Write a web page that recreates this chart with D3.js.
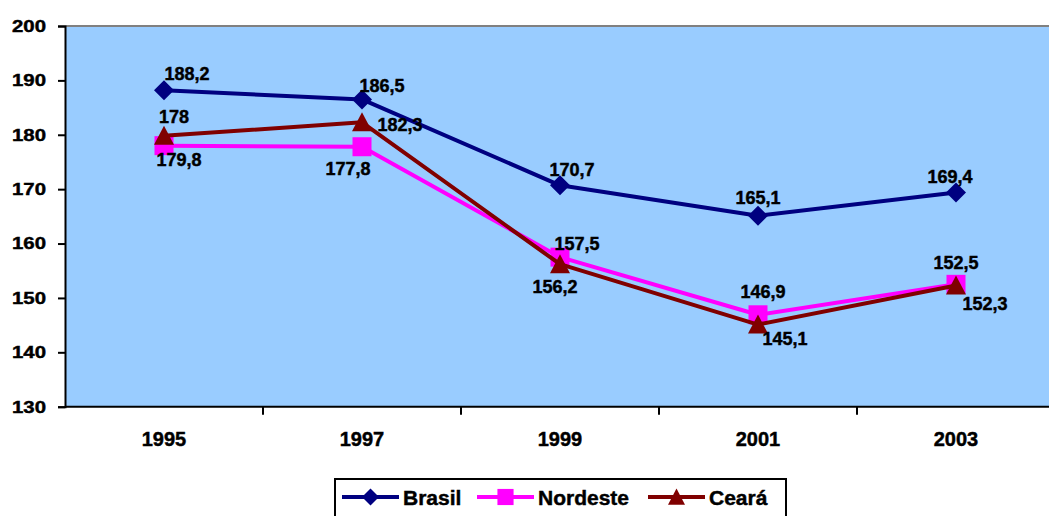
<!DOCTYPE html>
<html>
<head>
<meta charset="utf-8">
<script src="https://cdn.jsdelivr.net/npm/d3@7/dist/d3.min.js"></script>
<style>
  html, body { margin: 0; padding: 0; background: #fff; }
  svg { display: block; }
  text { font-family: "Liberation Sans", Arial, sans-serif; font-weight: bold; fill: #000; stroke: #000; stroke-width: 0.45px; }
</style>
</head>
<body>
<svg id="chart" width="1049" height="516"></svg>
<script>
// Years on the category axis
const years = ["1995", "1997", "1999", "2001", "2003"];
// Series values
const brasil   = [188.2, 186.5, 170.7, 165.1, 169.4];
const nordeste = [178, 177.8, 157.5, 146.9, 152.5];
const ceara    = [179.8, 182.3, 156.2, 145.1, 152.3];
// Value axis ticks
const yTicks = [130, 140, 150, 160, 170, 180, 190, 200];

// Hand-placed label nudges (px from the marker: dx, baseline dy)
const labelNudges = {
  Brasil:   [[23, -10], [20, -7], [12, -9], [0, -12], [-6, -9]],
  Nordeste: [[10, -23], [-14, 28], [17, -7], [5, -17], [0, -15]],
  "Ceará":  [[15, 30], [38, 9], [-5, 29], [27, 20], [29, 25]]
};

const series = [
  { name: "Brasil",   values: brasil,   color: "#000080", marker: "diamond" },
  { name: "Nordeste", values: nordeste, color: "#FF00FF", marker: "square" },
  { name: "Ceará",    values: ceara,    color: "#800000", marker: "triangle" }
];

const svg = d3.select("#chart");
const plot = { left: 65, right: 1055, top: 26, bottom: 406.7 };

const x = d3.scaleBand().domain(years).range([plot.left, plot.right]);
const y = d3.scaleLinear().domain([130, 200]).range([plot.bottom, plot.top]);
const cx = d => x(d) + x.bandwidth() / 2;

// Plot background
svg.append("rect")
  .attr("x", plot.left).attr("y", plot.top)
  .attr("width", plot.right - plot.left).attr("height", plot.bottom - plot.top)
  .attr("fill", "#99CCFF");
svg.append("line")
  .attr("x1", plot.left).attr("x2", plot.right)
  .attr("y1", plot.top).attr("y2", plot.top)
  .attr("stroke", "#808080").attr("stroke-width", 2);

// Value axis
const yAxis = svg.append("g")
  .attr("transform", `translate(${plot.left},0)`)
  .call(d3.axisLeft(y).tickValues(yTicks).tickSize(7).tickPadding(12).tickFormat(d3.format("d")));
yAxis.select(".domain").attr("stroke", "#000").attr("stroke-width", 2);
yAxis.selectAll(".tick line").attr("stroke", "#000").attr("stroke-width", 2);
yAxis.selectAll(".tick text")
  .attr("font-size", 17)
  .attr("font-family", "Liberation Sans, Arial, sans-serif")
  .attr("font-weight", "bold").attr("fill", "#000")
  .attr("textLength", 34).attr("lengthAdjust", "spacingAndGlyphs");

// Category axis: ticks sit on band boundaries, labels centred in bands
const xAxisG = svg.append("g").attr("transform", `translate(0,${plot.bottom})`);
xAxisG.append("line")
  .attr("x1", plot.left).attr("x2", plot.right)
  .attr("stroke", "#000").attr("stroke-width", 2);
xAxisG.selectAll("line.tk")
  .data(years.slice(1))
  .join("line").attr("class", "tk")
  .attr("x1", d => x(d)).attr("x2", d => x(d))
  .attr("y1", 0).attr("y2", 8)
  .attr("stroke", "#000").attr("stroke-width", 2);
xAxisG.selectAll("text")
  .data(years)
  .join("text")
  .attr("x", d => cx(d)).attr("y", 39)
  .attr("text-anchor", "middle").attr("font-size", 20)
  .text(d => d);

// Marker shapes
function markerPath(kind) {
  if (kind === "diamond") return "M0,-10L10,0L0,10L-10,0Z";
  if (kind === "square") return "M-9.5,-9.5H9.5V9.5H-9.5Z";
  return "M0,-10L10,9L-10,9Z";
}

const line = d3.line().x((d, i) => cx(years[i])).y(d => y(d));

series.forEach(s => {
  const g = svg.append("g");
  g.append("path")
    .attr("d", line(s.values))
    .attr("fill", "none").attr("stroke", s.color)
    .attr("stroke-width", 4).attr("stroke-linejoin", "round");
  g.selectAll("path.mk")
    .data(s.values)
    .join("path").attr("class", "mk")
    .attr("d", markerPath(s.marker))
    .attr("transform", (d, i) => `translate(${cx(years[i])},${y(d)})`)
    .attr("fill", s.color);
});

// Value labels
series.forEach(s => {
  svg.append("g").selectAll("text")
    .data(s.values)
    .join("text")
    .attr("x", (d, i) => cx(years[i]) + labelNudges[s.name][i][0])
    .attr("y", (d, i) => y(d) + labelNudges[s.name][i][1])
    .attr("text-anchor", "middle").attr("font-size", 18)
    .text(d => String(d).replace(".", ","));
});

// Legend
const legend = svg.append("g");
legend.append("rect")
  .attr("x", 335).attr("y", 479).attr("width", 451).attr("height", 50)
  .attr("fill", "#fff").attr("stroke", "#000").attr("stroke-width", 2);
const legendX = [342, 477, 648];
series.forEach((s, i) => {
  const lx = legendX[i], ly = 497;
  legend.append("line")
    .attr("x1", lx).attr("x2", lx + 57).attr("y1", ly).attr("y2", ly)
    .attr("stroke", s.color).attr("stroke-width", 4);
  legend.append("path")
    .attr("d", markerPath(s.marker))
    .attr("transform", `translate(${lx + 28.5},${ly}) scale(0.85)`)
    .attr("fill", s.color);
  legend.append("text")
    .attr("x", lx + 61).attr("y", ly + 8)
    .attr("font-size", 21)
    .text(s.name);
});
</script>
</body>
</html>
